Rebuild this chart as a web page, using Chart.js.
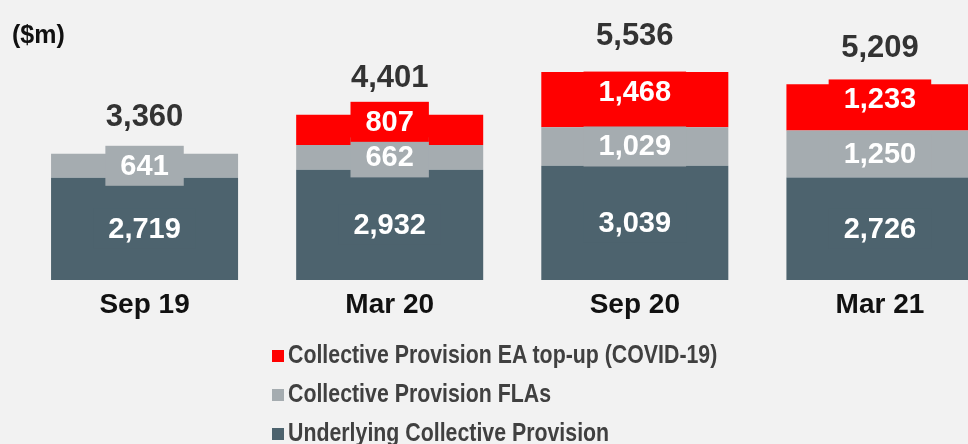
<!DOCTYPE html>
<html>
<head>
<meta charset="utf-8">
<script src="https://cdn.jsdelivr.net/npm/chart.js@4"></script>
<style>
  html, body { margin: 0; padding: 0; background: #f2f2f2; overflow: hidden; }
  #wrap { position: relative; width: 968px; height: 444px; overflow: hidden; background: #f2f2f2; }
  #chart-box { position: absolute; left: 0; top: 0; width: 1010px; height: 340px; }
  #unit { position: absolute; left: 12px; top: 20px; font: bold 25px "Liberation Sans", Arial, sans-serif; color: #111; }
  #legend { position: absolute; left: 272px; top: 335px; list-style: none; margin: 0; padding: 0;
            font: bold 25px "Liberation Sans", Arial, sans-serif; color: #404040; }
  #legend li { height: 39px; line-height: 39px; white-space: nowrap; }
  #legend .sw { display: inline-block; width: 12px; height: 12px; margin-right: 4px; vertical-align: 1px; }
  #legend .tx { display: inline-block; transform: scaleX(0.853); transform-origin: 0 50%; }
</style>
</head>
<body>
<div id="wrap">
  <div id="chart-box"><canvas id="chart" width="1010" height="340"></canvas></div>
  <div id="unit">($m)</div>
  <ul id="legend"></ul>
</div>
<script>
// ── Data ─────────────────────────────────────────────────────────────────────
const categories = ['Sep 19', 'Mar 20', 'Sep 20', 'Mar 21'];
const underlying = [2719, 2932, 3039, 2726];   // Underlying Collective Provision
const flas       = [641, 662, 1029, 1250];     // Collective Provision FLAs
const covidTopUp = [0, 807, 1468, 1233];       // Collective Provision EA top-up (COVID-19)
const totals     = [3360, 4401, 5536, 5209];

const seriesNames = [
  'Underlying Collective Provision',
  'Collective Provision FLAs',
  'Collective Provision EA top-up (COVID-19)',
];

// ── Styles ───────────────────────────────────────────────────────────────────
const C_DARK = '#4d636e';
const C_GREY = '#a5acb0';
const C_RED  = '#ff0000';
const FONT   = '"Liberation Sans", Arial, sans-serif';

function fmtNum(v) { return v.toLocaleString('en-US'); }

// ── Labels plugin: boxed segment values + totals above bars ──────────────────
const labelPlugin = {
  id: 'segLabels',
  afterDatasetsDraw(chart) {
    const ctx = chart.ctx;
    ctx.save();
    ctx.textAlign = 'center';
    ctx.textBaseline = 'middle';
    ctx.font = 'bold 29px ' + FONT;

    const items = [];
    // boxes first (dark, grey, red on top), then the white numbers
    [0, 1, 2].forEach(di => {
      const ds = chart.data.datasets[di];
      const meta = chart.getDatasetMeta(di);
      meta.data.forEach((bar, i) => {
        const v = ds.data[i];
        if (!v) return;
        const shift = di === 2 ? -8 : 0;
        const cy = (bar.y + bar.base) / 2 + shift;
        const txt = fmtNum(v);
        const w = ctx.measureText(txt).width + 30;
        const h = 40;
        ctx.fillStyle = ds.backgroundColor;
        ctx.fillRect(bar.x - w / 2, cy - h / 2, w, h);
        items.push({ x: bar.x, y: cy, txt });
      });
    });

    ctx.fillStyle = '#ffffff';
    items.forEach(it => ctx.fillText(it.txt, it.x, it.y + 1));

    // totals
    const meta0 = chart.getDatasetMeta(0);
    ctx.font = 'bold 31px ' + FONT;
    ctx.fillStyle = '#333333';
    totals.forEach((t, i) => {
      const x = meta0.data[i].x;
      const yTop = chart.scales.y.getPixelForValue(t);
      ctx.fillText(fmtNum(t), x, yTop - 36);
    });
    ctx.restore();
  }
};

// ── Chart ────────────────────────────────────────────────────────────────────
const chart = new Chart(document.getElementById('chart').getContext('2d'), {
  type: 'bar',
  data: {
    labels: categories,
    datasets: [
      { label: seriesNames[0], data: underlying, backgroundColor: C_DARK },
      { label: seriesNames[1], data: flas,       backgroundColor: C_GREY },
      { label: seriesNames[2], data: covidTopUp, backgroundColor: C_RED  },
    ],
  },
  options: {
    responsive: false,
    animation: false,
    events: [],
    layout: { padding: { top: 17, bottom: 0, left: 22, right: 7.5 } },
    datasets: { bar: { barPercentage: 0.763, categoryPercentage: 1 } },
    plugins: { legend: { display: false }, tooltip: { enabled: false } },
    scales: {
      x: {
        stacked: true,
        grid: { display: false, drawTicks: false },
        border: { display: false },
        ticks: { color: '#111', padding: 8, font: { family: FONT, size: 28, weight: 'bold' } },
        afterFit: (s) => { s.height = 60; },
      },
      y: {
        stacked: true,
        display: false,
        min: 0,
        max: 7000,
      },
    },
  },
  plugins: [labelPlugin],
});

// ── Legend (top-down: red, grey, dark) ───────────────────────────────────────
const legendEl = document.getElementById('legend');
[2, 1, 0].forEach(di => {
  const ds = chart.data.datasets[di];
  const li = document.createElement('li');
  li.innerHTML = `<span class="sw" style="background:${ds.backgroundColor}"></span><span class="tx">${ds.label}</span>`;
  legendEl.appendChild(li);
});
</script>
</body>
</html>
